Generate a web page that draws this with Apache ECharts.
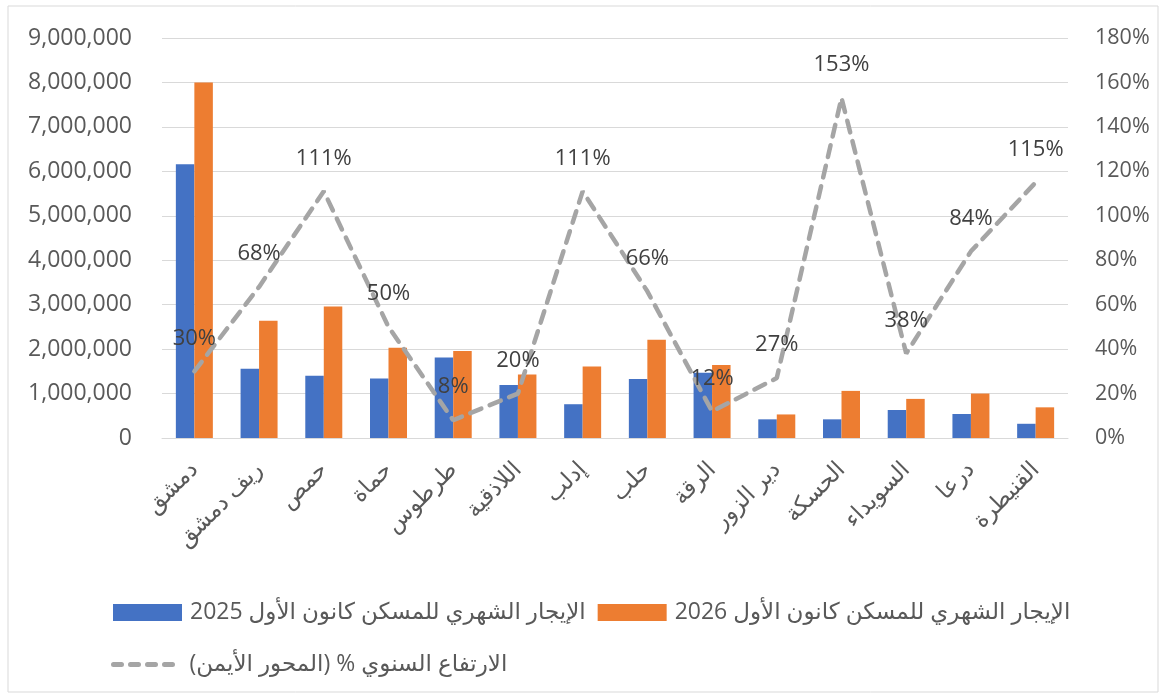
<!DOCTYPE html>
<html>
<head>
<meta charset="utf-8">
<title>ECharts</title>
<style>
  html, body { margin: 0; padding: 0; background: #fff; }
  #main { width: 1163px; height: 696px; direction: rtl; }
</style>
</head>
<body>
<div id="main"></div>
<script src="https://cdn.jsdelivr.net/npm/echarts@6/dist/echarts.min.js"></script>
<script>
var categories = ['دمشق', 'ريف دمشق', 'حمص', 'حماة', 'طرطوس', 'اللاذقية', 'إدلب', 'حلب', 'الرقة', 'دير الزور', 'الحسكة', 'السويداء', 'درعا', 'القنيطرة'];
var rent2025 = [6160000, 1560000, 1400000, 1340000, 1810000, 1190000, 760000, 1330000, 1470000, 420000, 420000, 630000, 540000, 320000];
var rent2026 = [8000000, 2640000, 2960000, 2030000, 1960000, 1430000, 1610000, 2210000, 1640000, 530000, 1060000, 880000, 1000000, 690000];
var yearlyRise = [30, 68, 111, 50, 8, 20, 111, 66, 12, 27, 153, 38, 84, 115];

var name2025 = 'الإيجار الشهري للمسكن كانون الأول 2025';
var name2026 = 'الإيجار الشهري للمسكن كانون الأول 2026';
var nameRise = 'الارتفاع السنوي % (المحور الأيمن)';

var font = '"Open Sans", "DejaVu Sans", sans-serif';
var grey = '#595959';
// four rounded dashes for the line legend icon
var dashIcon = 'path://M2.5,0h8a2.5,2.5 0 0 1 0,5h-8a2.5,2.5 0 0 1 0,-5z' +
    'M19.5,0h8a2.5,2.5 0 0 1 0,5h-8a2.5,2.5 0 0 1 0,-5z' +
    'M36.5,0h8a2.5,2.5 0 0 1 0,5h-8a2.5,2.5 0 0 1 0,-5z' +
    'M53.5,0h8a2.5,2.5 0 0 1 0,5h-8a2.5,2.5 0 0 1 0,-5z';

var myChart = echarts.init(document.getElementById('main'));

myChart.setOption({
    backgroundColor: '#fff',
    animation: false,
    textStyle: { fontFamily: font },
    graphic: [{
        type: 'rect',
        shape: { x: 8, y: 6, width: 1150, height: 686 },
        style: { fill: 'none', stroke: '#d9d9d9', lineWidth: 1 },
        silent: true
    }],
    grid: { left: 162, right: 95, top: 38, height: 400 },
    legend: [{
        left: 108, top: 596,
        icon: 'rect',
        itemWidth: 69, itemHeight: 17, itemGap: 12,
        textStyle: { fontSize: 23, color: grey, fontFamily: font, padding: [0, 0, 0, 3] },
        data: [name2025, name2026]
    }, {
        left: 106, top: 648,
        itemWidth: 65, itemHeight: 5,
        textStyle: { fontSize: 23, color: grey, fontFamily: font, padding: [0, 0, 0, 9] },
        data: [{ name: nameRise, icon: dashIcon, itemStyle: { color: '#A5A5A5' } }]
    }],
    xAxis: {
        type: 'category',
        data: categories,
        axisLine: { lineStyle: { color: '#d9d9d9', width: 1 } },
        axisTick: { show: false },
        axisLabel: { rotate: 45, margin: 28, fontSize: 23, color: grey, interval: 0, fontFamily: font }
    },
    yAxis: [{
        type: 'value', min: 0, max: 9000000, interval: 1000000,
        axisLabel: {
            fontSize: 23, color: grey, margin: 30, fontFamily: font,
            formatter: function (v) { return v.toLocaleString('en-US'); }
        },
        splitLine: { lineStyle: { color: '#d9d9d9', width: 1 } }
    }, {
        type: 'value', min: 0, max: 180, interval: 20,
        axisLabel: { fontSize: 21.5, color: grey, margin: 27, formatter: '{value}%', fontFamily: font },
        splitLine: { show: false }
    }],
    series: [{
        name: name2025,
        type: 'bar',
        data: rent2025,
        barWidth: 18.5,
        barGap: '0%',
        itemStyle: { color: '#4472C4' }
    }, {
        name: name2026,
        type: 'bar',
        data: rent2026,
        barWidth: 18.5,
        itemStyle: { color: '#ED7D31' }
    }, {
        name: nameRise,
        type: 'line',
        yAxisIndex: 1,
        data: yearlyRise,
        symbol: 'circle',
        symbolSize: 0,
        showSymbol: true,
        z: 5,
        lineStyle: { color: '#A5A5A5', width: 4.5, type: [12, 9], cap: 'round' },
        itemStyle: { color: '#A5A5A5' },
        label: {
            show: true, position: 'top', distance: 22,
            fontSize: 22, color: '#404040', fontFamily: font,
            formatter: '{c}%'
        }
    }]
});
</script>
</body>
</html>
